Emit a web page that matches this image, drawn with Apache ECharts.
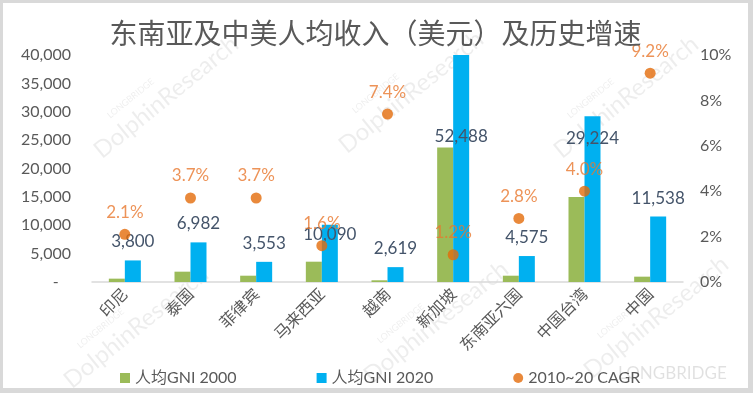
<!DOCTYPE html>
<html>
<head>
<meta charset="utf-8">
<script src="https://cdn.jsdelivr.net/npm/echarts@6/dist/echarts.min.js"></script>
<style>
html,body{margin:0;padding:0;background:#d9d9d9;width:753px;height:393px;overflow:hidden;}
#c{position:absolute;left:3px;top:3px;width:745px;height:385px;background:#fff;}
</style>
</head>
<body>
<div id="c"></div>
<script>
var titleText = '东南亚及中美人均收入（美元）及历史增速';
var categories = ['印尼','泰国','菲律宾','马来西亚','越南','新加坡','东南亚六国','中国台湾','中国'];
var gni2000 = [590, 1820, 1110, 3580, 300, 23700, 1110, 15000, 940];
var gni2020 = [3800, 6982, 3553, 10090, 2619, 52488, 4575, 29224, 11538];
var cagr = [2.1, 3.7, 3.7, 1.6, 7.4, 1.2, 2.8, 4.0, 9.2];
var seriesNames = ['人均GNI 2000', '人均GNI 2020', '2010~20 CAGR'];
var leftTicks = {min: 0, max: 40000, interval: 5000};
var rightTicks = {min: 0, max: 10, interval: 2};

var LATIN = 'Lato, "Noto Sans CJK SC", sans-serif';
var CJK = '"Noto Sans CJK SC", Lato, sans-serif';
var GRAY = '#595959';

// manual label nudges (styling only), by category index
var labelNudge = {3: 28, 5: 100, 7: 41};

var blueData = gni2020.map(function (v, i) {
  var d = {value: v};
  if (labelNudge[i] !== undefined) d.label = {offset: [0, labelNudge[i]]};
  return d;
});

function fmtThousands(v) {
  return String(v).replace(/\B(?=(\d{3})+(?!\d))/g, ',');
}

var wm = [];
[[150, 105], [395, 100], [610, 105], [120, 335], [420, 330], [640, 325]].forEach(function (p) {
  wm.push({
    type: 'group', x: p[0], y: p[1], rotation: Math.PI / 4.6, silent: true, z: -1,
    children: [
      {type: 'text', style: {text: 'LONGBRIDGE', x: -40, y: -26, fill: 'rgba(0,0,0,0.07)', font: '9px ' + LATIN}},
      {type: 'text', style: {text: 'DolphinResearch', x: -72, y: -12, fill: 'rgba(0,0,0,0.07)', font: '24px ' + LATIN}}
    ]
  });
});
wm.push({type: 'text', left: 615, top: 362, silent: true, z: -1,
  style: {text: 'LONGBRIDGE', fill: 'rgba(0,0,0,0.12)', font: '17px ' + LATIN}});

var chart = echarts.init(document.getElementById('c'));
chart.setOption({
  animation: false,
  backgroundColor: '#fff',
  title: {
    text: titleText, left: 'center', top: 11,
    textStyle: {fontFamily: CJK, fontSize: 28, fontWeight: 'normal', color: GRAY}
  },
  graphic: wm,
  legend: {
    left: 112, top: 362, itemWidth: 10, itemHeight: 10, itemGap: 80,
    textStyle: {fontFamily: LATIN, fontSize: 16, color: GRAY},
    data: [
      {name: seriesNames[0], icon: 'rect'},
      {name: seriesNames[1], icon: 'rect'},
      {name: seriesNames[2], icon: 'circle'}
    ]
  },
  grid: {left: 89, right: 65, top: 52, bottom: 106},
  xAxis: {
    type: 'category', data: categories,
    axisLine: {lineStyle: {color: '#d9d9d9', width: 1.5}},
    axisTick: {show: false},
    axisLabel: {rotate: 45, margin: 9, fontFamily: CJK, fontSize: 16, color: GRAY, interval: 0}
  },
  yAxis: [{
    type: 'value', min: leftTicks.min, max: leftTicks.max, interval: leftTicks.interval,
    splitLine: {show: false}, axisLine: {show: false}, axisTick: {show: false},
    axisLabel: {margin: 21, fontFamily: LATIN, fontSize: 16, color: GRAY,
      formatter: function (v) { return v === 0 ? '-   ' : fmtThousands(v); }}
  }, {
    type: 'value', min: rightTicks.min, max: rightTicks.max, interval: rightTicks.interval,
    splitLine: {show: false}, axisLine: {show: false}, axisTick: {show: false},
    axisLabel: {margin: 17, fontFamily: LATIN, fontSize: 16, color: GRAY,
      formatter: function (v) { return v + '%'; }}
  }],
  series: [{
    name: seriesNames[0], type: 'bar', data: gni2000, barWidth: 16, barGap: '0%',
    itemStyle: {color: '#9BBB59'}
  }, {
    name: seriesNames[1], type: 'bar', data: blueData, barWidth: 16, barGap: '0%',
    itemStyle: {color: '#00B0F0'},
    label: {show: true, position: 'top', distance: 10, fontFamily: LATIN, fontSize: 17, color: '#44546A',
      formatter: function (p) { return fmtThousands(p.value); }}
  }, {
    name: seriesNames[2], type: 'scatter', yAxisIndex: 1, data: cagr,
    symbol: 'circle', symbolSize: 11, itemStyle: {color: '#E46C0A'}, z: 5,
    label: {show: true, position: 'top', distance: 8, fontFamily: LATIN, fontSize: 17, color: '#E8782E',
      formatter: function (p) { return p.value.toFixed(1) + '%'; }}
  }]
});
</script>
</body>
</html>
